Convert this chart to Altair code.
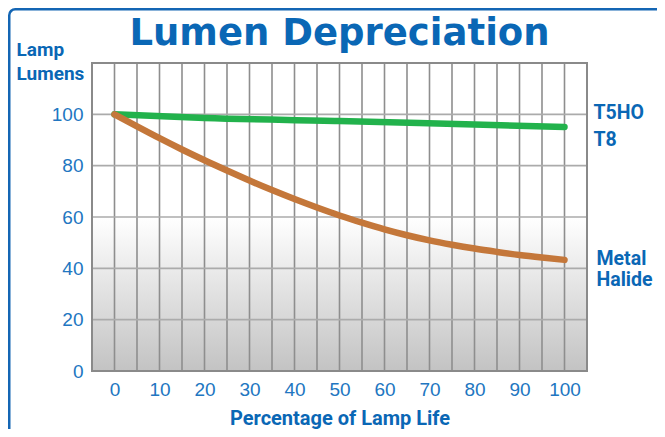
import altair as alt
import pandas as pd

# ---- data ----
pct_life = [0, 5, 10, 15, 20, 25, 30, 35, 40, 45, 50, 55, 60, 65, 70, 75, 80, 85, 90, 95, 100]
metal_halide = [100, 95.3, 90.7, 86.3, 82.1, 78.1, 74.2, 70.5, 67.0, 63.7, 60.6,
                57.8, 55.2, 52.9, 50.9, 49.2, 47.7, 46.4, 45.2, 44.2, 43.3]
t5ho_pct = [0, 20, 50, 80, 100]
t5ho_t8 = [100, 98.6, 97.4, 96.0, 95.1]

x_labels = [0, 10, 20, 30, 40, 50, 60, 70, 80, 90, 100]
y_labels = [0, 20, 40, 60, 80, 100]
x_grid = [0, 5, 10, 15, 20, 25, 30, 35, 40, 45, 50, 55, 60, 65, 70, 75, 80, 85, 90, 95, 100]
y_grid = [20, 40, 60, 80, 100]

series_names = ["T5HO/T8", "Metal Halide"]
series_colors = ["#22b24c", "#c4773a"]
end_labels = ["T5HO\nT8", "Metal\nHalide"]
chart_title = "Lumen Depreciation"

# ---- style ----
W, H = 495, 308
BLUE = "#0a67b5"
LABEL_BLUE = "#2176c1"
COND = "Roboto"
LABEL_FONT = "Liberation Sans"

xs = alt.Scale(domain=[-5, 105], nice=False, zero=False)
ys = alt.Scale(domain=[0, 120], nice=False, zero=False)

x_axis = alt.Axis(
    values=x_labels, grid=False, domain=False, ticks=False, tickSize=0,
    labelFont=LABEL_FONT, labelFontSize=19, labelColor=LABEL_BLUE, labelPadding=9,
    title="Percentage of Lamp Life", titleFont=COND, titleFontSize=20, titleFontWeight="bold",
    titleColor=BLUE, titleBaseline="alphabetic", titleY=53, titleAnchor="middle",
)
y_axis = alt.Axis(
    values=y_labels, grid=False, domain=False, ticks=False, tickSize=0,
    labelFont=LABEL_FONT, labelFontSize=19, labelColor=LABEL_BLUE, labelPadding=9,
    title=["Lamp", "Lumens"], titleFont=COND, titleFontSize=19, titleFontWeight="bold",
    titleColor=BLUE, titleAngle=0, titleAlign="left", titleBaseline="alphabetic",
    titleX=-76, titleY=-8, titleLineHeight=24,
)

one = pd.DataFrame({"k": [0]})
title_df = pd.DataFrame({"t": [chart_title]})

green_df = pd.DataFrame({"pct": t5ho_pct, "lumens": t5ho_t8, "series": series_names[0]})
brown_df = pd.DataFrame({"pct": pct_life, "lumens": metal_halide, "series": series_names[1]})
lab_df = pd.DataFrame({
    "pct": [t5ho_pct[-1], pct_life[-1]],
    "lumens": [t5ho_t8[-1], metal_halide[-1]],
    "text": end_labels,
    "series": series_names,
})

background = alt.Chart(one).mark_rect(
    fill=alt.Gradient(
        gradient="linear",
        stops=[alt.GradientStop(color="#ffffff", offset=0),
               alt.GradientStop(color="#ffffff", offset=0.5),
               alt.GradientStop(color="#c3c3c3", offset=1)],
        x1=0, x2=0, y1=0, y2=1,
    )
).encode(x=alt.value(0), x2=alt.value(W), y=alt.value(0), y2=alt.value(H))

vgrid = alt.Chart(pd.DataFrame({"g": x_grid})).mark_rule(
    color="#8e8e8e", strokeWidth=1.6
).encode(x=alt.X("g:Q", scale=xs, axis=x_axis))

hgrid = alt.Chart(pd.DataFrame({"g": y_grid})).mark_rule(
    color="#ababab", strokeWidth=1.6
).encode(y=alt.Y("g:Q", scale=ys, axis=y_axis))

border = alt.Chart(one).mark_rect(
    fillOpacity=0, stroke="#8a8a8a", strokeWidth=2
).encode(x=alt.value(0), x2=alt.value(W), y=alt.value(0), y2=alt.value(H))

frame = alt.Chart(one).mark_rect(
    fillOpacity=0, stroke="#1466b4", strokeWidth=2.5, cornerRadius=6
).encode(x=alt.value(-82.75), y=alt.value(-53.75), x2=alt.value(W + 200), y2=alt.value(H + 200))

title = alt.Chart(title_df).mark_text(
    font="DejaVu Sans", fontSize=37, fontWeight="bold", color=BLUE,
    align="center", baseline="alphabetic"
).encode(x=alt.value(W / 2), y=alt.value(-18), text="t:N")

color_scale = alt.Scale(domain=series_names, range=series_colors)


def series_line(df):
    return alt.Chart(df).mark_line(
        strokeWidth=6.5, strokeCap="round", strokeJoin="round", interpolate="monotone"
    ).encode(
        x=alt.X("pct:Q", scale=xs, axis=x_axis),
        y=alt.Y("lumens:Q", scale=ys, axis=y_axis),
        color=alt.Color("series:N", scale=color_scale, legend=None),
    )


green = series_line(green_df)
brown = series_line(brown_df)


def end_label(name, dx, dy, lh):
    return alt.Chart(lab_df).transform_filter(
        alt.datum.series == name
    ).mark_text(
        align="left", baseline="middle", dx=dx, dy=dy, font=COND, fontWeight="bold",
        fontSize=19.5, color=BLUE, lineBreak="\n", lineHeight=lh
    ).encode(
        x=alt.X("pct:Q", scale=xs, axis=x_axis),
        y=alt.Y("lumens:Q", scale=ys, axis=y_axis),
        text="text:N",
    )


lab_green = end_label(series_names[0], 29, -13.5, 27)
lab_brown = end_label(series_names[1], 32, -1, 21)

chart = alt.layer(
    background, vgrid, hgrid, border, frame, title, green, brown, lab_green, lab_brown
).properties(
    width=W, height=H,
    autosize=alt.AutoSizeParams(type="none"),
    padding={"left": 84, "top": 55, "right": 70, "bottom": 58},
).configure_view(strokeWidth=0)

chart.save("out.html", embed_options={"renderer": "svg", "actions": False})
